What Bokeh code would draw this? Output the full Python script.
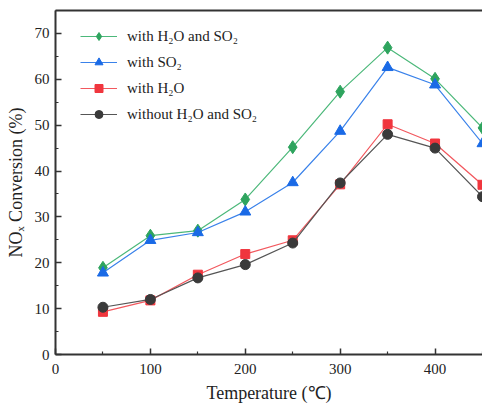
from bokeh.plotting import figure
from bokeh.models import Legend, LegendItem, LinearAxis, Range1d, FixedTicker
from bokeh.embed import file_html
from bokeh.resources import INLINE

temps = [50, 100, 150, 200, 250, 300, 350, 400, 450]
with_h2o_so2 = [18.9, 25.9, 27.0, 33.8, 45.2, 57.3, 66.9, 60.1, 49.4]
with_so2 = [17.8, 24.9, 26.6, 31.1, 37.5, 48.7, 62.6, 58.8, 46.0]
with_h2o = [9.3, 11.8, 17.4, 21.9, 24.9, 37.1, 50.2, 46.0, 37.0]
without = [10.3, 12.0, 16.7, 19.6, 24.3, 37.4, 48.0, 45.0, 34.4]

labels = ["with H\u2082O and SO\u2082", "with SO\u2082", "with H\u2082O", "without H\u2082O and SO\u2082"]
series = [with_h2o_so2, with_so2, with_h2o, without]
line_colors = ["#4cb87a", "#3a82ea", "#f2585e", "#555555"]
fill_colors = ["#2ea45e", "#1a6ae6", "#f0363e", "#3a3a3a"]
markers = ["diamond", "triangle", "square", "circle"]
sizes = [13, 11, 9, 10]

FONT = "Liberation Serif"
AXC = "#333333"

p = figure(width=482, height=406, output_backend="svg", toolbar_location=None,
           x_range=Range1d(0, 450), y_range=Range1d(0, 75),
           min_border_left=55, min_border_right=0, min_border_top=10, min_border_bottom=52)
p.xgrid.visible = False
p.ygrid.visible = False
p.outline_line_color = None
p.background_fill_color = "white"

items = []
for ys, lab, lc, fc, mk, sz in zip(series, labels, line_colors, fill_colors, markers, sizes):
    r1 = p.line(temps, ys, line_color=lc, line_width=1.2)
    r2 = p.scatter(temps, ys, marker=mk, size=sz, fill_color=fc, line_color=fc)
    items.append(LegendItem(label=lab, renderers=[r1, r2]))

legend = Legend(items=items, location=(25, 230), orientation="vertical",
                border_line_alpha=0, background_fill_alpha=0,
                label_text_font=FONT, label_text_font_size="15px", label_text_color="#222222",
                glyph_width=37, glyph_height=20, label_height=20, spacing=6,
                padding=0, margin=0, label_standoff=10)
p.add_layout(legend)

for ax in [p.xaxis[0], p.yaxis[0]]:
    ax.axis_line_color = AXC
    ax.axis_line_width = 2
    ax.major_tick_line_color = AXC
    ax.minor_tick_line_color = AXC
    ax.major_tick_line_width = 1.5
    ax.minor_tick_line_width = 1.2
    ax.major_tick_in = 6
    ax.major_tick_out = 0
    ax.minor_tick_in = 3
    ax.minor_tick_out = 0
    ax.major_label_text_font = FONT
    ax.major_label_text_font_size = "15px"
    ax.major_label_text_color = "#222222"
    ax.axis_label_text_font = FONT
    ax.axis_label_text_font_size = "18px"
    ax.axis_label_text_font_style = "normal"
    ax.axis_label_text_color = "#222222"

p.xaxis.ticker = FixedTicker(ticks=[0, 100, 200, 300, 400], minor_ticks=[50, 150, 250, 350, 450])
p.yaxis.ticker = FixedTicker(ticks=[0, 10, 20, 30, 40, 50, 60, 70], minor_ticks=[5, 15, 25, 35, 45, 55, 65, 75])
p.xaxis.axis_label = "Temperature (\u2103)"
p.yaxis.axis_label = "NO\u2093 Conversion (%)"
p.xaxis.major_label_standoff = 9
p.xaxis.axis_label_standoff = 6
p.yaxis.major_label_standoff = 6
p.yaxis.axis_label_standoff = 6

top = LinearAxis(ticker=FixedTicker(ticks=[], minor_ticks=[]),
                 axis_line_color=AXC, axis_line_width=2,
                 major_tick_line_color=None, minor_tick_line_color=None,
                 major_label_standoff=0,
                 major_tick_in=0, major_tick_out=0, minor_tick_in=0, minor_tick_out=0)
p.add_layout(top, "above")

open("out.html", "w").write(file_html(p, INLINE))
